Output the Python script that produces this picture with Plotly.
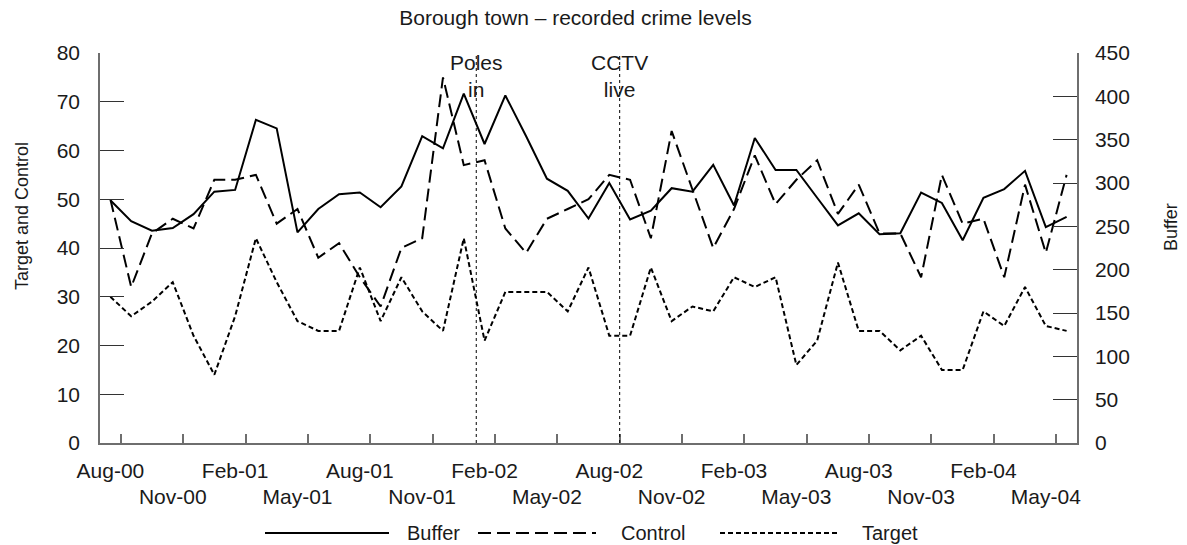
import plotly.graph_objects as go

# ---------------- data ----------------
months = ["Aug-00", "Sep-00", "Oct-00", "Nov-00", "Dec-00", "Jan-01", "Feb-01", "Mar-01",
          "Apr-01", "May-01", "Jun-01", "Jul-01", "Aug-01", "Sep-01", "Oct-01", "Nov-01",
          "Dec-01", "Jan-02", "Feb-02", "Mar-02", "Apr-02", "May-02", "Jun-02", "Jul-02",
          "Aug-02", "Sep-02", "Oct-02", "Nov-02", "Dec-02", "Jan-03", "Feb-03", "Mar-03",
          "Apr-03", "May-03", "Jun-03", "Jul-03", "Aug-03", "Sep-03", "Oct-03", "Nov-03",
          "Dec-03", "Jan-04", "Feb-04", "Mar-04", "Apr-04", "May-04", "Jun-04"]

buffer = [280, 256, 245, 248, 264, 290, 292, 373, 363, 243, 270, 287, 289, 272, 296, 354,
          340, 403, 345, 401, 354, 305, 291, 259, 300, 258, 268, 294, 290, 321, 274, 352,
          315, 315, 283, 251, 265, 241, 242, 289, 277, 234, 283, 293, 314, 249, 261]

control = [50, 32, 43, 46, 44, 54, 54, 55, 45, 48, 38, 41, 34, 28, 40, 42,
           75, 57, 58, 44, 39, 46, 48, 50, 55, 54, 42, 64, 52, 40, 48, 59,
           49, 54, 58, 47, 53, 43, 43, 34, 55, 45, 46, 34, 53, 39, 55]

target = [30, 26, 29, 33, 22, 14, 26, 42, 33, 25, 23, 23, 36, 25, 34, 27,
          23, 42, 21, 31, 31, 31, 27, 36, 22, 22, 36, 25, 28, 27, 34, 32,
          34, 16, 21, 37, 23, 23, 19, 22, 15, 15, 27, 24, 32, 24, 23]

tick_labels_upper = ["Aug-00", "Feb-01", "Aug-01", "Feb-02", "Aug-02", "Feb-03", "Aug-03", "Feb-04"]
tick_labels_lower = ["Nov-00", "May-01", "Nov-01", "May-02", "Nov-02", "May-03", "Nov-03", "May-04"]

events = ["Poles<br>in", "CCTV<br>live"]
event_pos = [17.6, 24.5]   # position on the month index axis

# ---------------- styling ----------------
FONT = "Liberation Sans, Arial, sans-serif"
TXT = "#1a1a1a"
AXC = "#6e6e6e"
FS = 21
W, H = 1187, 545
L, R, T, B = 100, 110, 53, 102
PW, PH = W - L - R, H - T - B

x = list(range(len(months)))
idx_upper = [months.index(m) for m in tick_labels_upper]
idx_lower = [months.index(m) for m in tick_labels_lower]
minor_ticks = [i + 0.5 for i in range(0, len(months) - 1, 3)]
xr = [-0.5, len(months) - 0.5]


def px2x(p):
    return (p - L) / PW


def py2y(p):
    return (H - B - p) / PH


fig = go.Figure()
fig.add_trace(go.Scatter(x=x, y=buffer, name="Buffer", mode="lines", yaxis="y2",
                         line=dict(color="#000", width=2), text=months, showlegend=False))
fig.add_trace(go.Scatter(x=x, y=control, name="Control", mode="lines",
                         line=dict(color="#000", width=2, dash="13px,6px"), text=months, showlegend=False))
fig.add_trace(go.Scatter(x=x, y=target, name="Target", mode="lines",
                         line=dict(color="#000", width=2, dash="5px,3px"), text=months, showlegend=False))
# helper (invisible) traces so that the label axes are drawn
fig.add_trace(go.Scatter(x=[None], y=[None], xaxis="x2", showlegend=False, hoverinfo="skip"))
fig.add_trace(go.Scatter(x=[None], y=[None], xaxis="x3", showlegend=False, hoverinfo="skip"))

# event lines + labels
for ev, pos in zip(events, event_pos):
    fig.add_shape(type="line", xref="x", yref="paper", x0=pos, x1=pos, y0=0, y1=1,
                  line=dict(color="#000", width=1, dash="3px,3px"))
    fig.add_annotation(x=pos, xref="x", y=py2y(76), yref="paper", text=ev, showarrow=False,
                       font=dict(family=FONT, size=FS, color=TXT), xanchor="center", yanchor="middle")

# axis titles
fig.add_annotation(x=px2x(22), y=py2y(216), xref="paper", yref="paper", text="Target and Control",
                   textangle=-90, showarrow=False, xanchor="center", yanchor="middle",
                   font=dict(family=FONT, size=18, color=TXT))
fig.add_annotation(x=px2x(1171), y=py2y(227), xref="paper", yref="paper", text="Buffer",
                   textangle=-90, showarrow=False, xanchor="center", yanchor="middle",
                   font=dict(family=FONT, size=18, color=TXT))

# custom legend (long line samples)
leg_y = py2y(533)
leg = [("Buffer", None, 265, 389, 405), ("Control", "13px,6px", 478, 596, 619),
       ("Target", "5px,3px", 720, 840, 860)]
for name, dash, a, b, t in leg:
    ln = dict(color="#000", width=2)
    if dash:
        ln["dash"] = dash
    fig.add_shape(type="line", xref="paper", yref="paper", x0=px2x(a), x1=px2x(b),
                  y0=leg_y, y1=leg_y, line=ln)
    fig.add_annotation(x=px2x(t), y=leg_y, xref="paper", yref="paper", text=name, showarrow=False,
                       xanchor="left", yanchor="middle", font=dict(family=FONT, size=20, color=TXT))

fig.update_layout(
    width=W, height=H,
    margin=dict(l=L, r=R, t=T, b=B, autoexpand=False),
    paper_bgcolor="white", plot_bgcolor="white",
    font=dict(family=FONT, size=FS, color=TXT),
    title=dict(text="Borough town – recorded crime levels", x=575.5 / W, xref="container",
               y=1 - 18 / H, yref="container", xanchor="center", yanchor="middle",
               font=dict(family=FONT, size=21, color=TXT)),
    showlegend=False,
    xaxis=dict(range=xr, tickmode="array", tickvals=minor_ticks, showticklabels=False,
               ticks="inside", ticklen=9, tickcolor=AXC, tickwidth=1.5, automargin=False,
               showline=True, linecolor=AXC, linewidth=1.5, showgrid=False, zeroline=False),
    xaxis2=dict(range=xr, overlaying="x", anchor="y", side="bottom", tickmode="array",
                tickvals=idx_upper, ticktext=tick_labels_upper, ticks="", showline=False,
                showgrid=False, zeroline=False, ticklabelstandoff=13, automargin=False,
                tickfont=dict(family=FONT, size=FS, color=TXT)),
    xaxis3=dict(range=xr, overlaying="x", anchor="y", side="bottom", tickmode="array",
                tickvals=idx_lower, ticktext=tick_labels_lower, ticks="", showline=False,
                showgrid=False, zeroline=False, ticklabelstandoff=39, automargin=False,
                tickfont=dict(family=FONT, size=FS, color=TXT)),
    yaxis=dict(range=[0, 80], tickmode="array", tickvals=list(range(0, 81, 10)),
               ticks="inside", ticklen=24, tickcolor="#333", tickwidth=1.2, automargin=False,
               showline=True, linecolor=AXC, linewidth=1.5, showgrid=False, zeroline=False,
               ticklabelstandoff=14, tickfont=dict(family=FONT, size=FS, color=TXT)),
    yaxis2=dict(range=[0, 450], tickmode="array", tickvals=list(range(0, 451, 50)),
                overlaying="y", side="right", anchor="x", automargin=False,
                ticks="inside", ticklen=24, tickcolor="#333", tickwidth=1.2,
                showline=True, linecolor=AXC, linewidth=1.5, showgrid=False, zeroline=False,
                ticklabelstandoff=12, tickfont=dict(family=FONT, size=FS, color=TXT)),
)

fig.write_html("out.html", config={"displayModeBar": False},
               post_script="document.body.style.margin='0';")
